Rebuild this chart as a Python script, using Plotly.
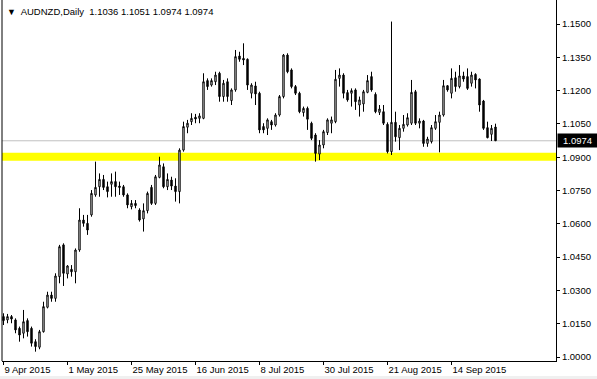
import pandas as pd
import plotly.graph_objects as go

dates = [d.strftime("%Y-%m-%d") for d in pd.bdate_range("2015-04-09", periods=124)]

open_ = [1.0182,1.0167,1.0182,1.0167,1.0129,1.0107,1.0164,1.0129,1.0069,1.0044,
         1.0114,1.0224,1.0279,1.0264,1.0362,1.0505,1.0374,1.0395,1.0384,1.0482,
         1.0617,1.0602,1.0640,1.0730,1.0767,1.0800,1.0767,1.0778,1.0790,1.0770,
         1.0767,1.0730,1.0677,1.0692,1.0662,1.0622,1.0659,1.0764,1.0692,1.0809,
         1.0857,1.0767,1.0797,1.0770,1.0745,1.0932,1.1035,1.1060,1.1080,1.1075,
         1.1075,1.1245,1.1225,1.1240,1.1278,1.1173,1.1240,1.1155,1.1203,1.1356,
         1.1345,1.1341,1.1188,1.1221,1.1188,1.1038,1.1030,1.1060,1.1045,1.1090,
         1.1173,1.1360,1.1293,1.1218,1.1188,1.1101,1.1120,1.1053,1.1000,1.0914,
         1.0955,1.1011,1.1053,1.1060,1.1255,1.1270,1.1191,1.1188,1.1203,1.1135,
         1.1140,1.1192,1.1263,1.1183,1.1102,1.1105,1.1048,1.0925,1.1057,1.0988,
         1.1030,1.1045,1.1053,1.1195,1.1053,1.1063,1.0962,1.0970,1.1030,1.1057,
         1.1090,1.1222,1.1188,1.1258,1.1218,1.1266,1.1263,1.1233,1.1273,1.1252,
         1.1153,1.1033,1.1003,1.1036]
high = [1.0197,1.0194,1.0189,1.0174,1.0137,1.0212,1.0174,1.0137,1.0080,1.0122,
        1.0249,1.0294,1.0294,1.0377,1.0505,1.0512,1.0414,1.0414,1.0489,1.0670,
        1.0640,1.0640,1.0752,1.0880,1.0827,1.0820,1.0790,1.0827,1.0835,1.0790,
        1.0775,1.0737,1.0707,1.0707,1.0670,1.0692,1.0745,1.0775,1.0820,1.0902,
        1.0872,1.0827,1.0812,1.0805,1.0940,1.1060,1.1068,1.1098,1.1095,1.1098,
        1.1278,1.1255,1.1255,1.1285,1.1285,1.1248,1.1255,1.1210,1.1383,1.1375,
        1.1413,1.1345,1.1233,1.1240,1.1195,1.1053,1.1075,1.1068,1.1098,1.1180,
        1.1365,1.1368,1.1300,1.1225,1.1195,1.1128,1.1128,1.1060,1.1008,1.0977,
        1.1023,1.1075,1.1083,1.1293,1.1300,1.1278,1.1203,1.1210,1.1210,1.1173,
        1.1203,1.1270,1.1285,1.1192,1.1135,1.1135,1.1057,1.1511,1.1105,1.1045,
        1.1090,1.1098,1.1248,1.1203,1.1075,1.1068,1.0992,1.1045,1.1090,1.1105,
        1.1248,1.1225,1.1300,1.1285,1.1315,1.1285,1.1300,1.1285,1.1278,1.1255,
        1.1158,1.1060,1.1045,1.1051]
low = [1.0144,1.0152,1.0152,1.0107,1.0069,1.0084,1.0092,1.0047,1.0024,1.0035,
       1.0110,1.0219,1.0249,1.0249,1.0332,1.0320,1.0354,1.0362,1.0332,1.0474,
       1.0587,1.0550,1.0632,1.0722,1.0722,1.0752,1.0719,1.0722,1.0722,1.0730,
       1.0722,1.0670,1.0665,1.0670,1.0610,1.0565,1.0647,1.0685,1.0685,1.0805,
       1.0760,1.0752,1.0752,1.0700,1.0692,1.0925,1.1008,1.1045,1.1053,1.1053,
       1.1071,1.1203,1.1218,1.1225,1.1150,1.1150,1.1150,1.1135,1.1195,1.1330,
       1.1315,1.1203,1.1165,1.1135,1.1008,1.1008,1.1000,1.1023,1.1038,1.1083,
       1.1165,1.1278,1.1210,1.1180,1.1098,1.1083,1.1023,1.0977,1.0880,1.0887,
       1.0940,1.1000,1.1008,1.1053,1.1218,1.1165,1.1150,1.1128,1.1113,1.1083,
       1.1105,1.1188,1.1195,1.1098,1.1090,1.1045,1.0917,1.0910,1.0970,1.0932,
       1.1015,1.1038,1.1045,1.1045,1.1030,1.0947,1.0947,1.0962,1.1023,1.0922,
       1.1083,1.1195,1.1165,1.1195,1.1210,1.1240,1.1203,1.1218,1.1210,1.1105,
       1.1023,1.0985,1.0973,1.0974]
close = [1.0164,1.0182,1.0171,1.0122,1.0099,1.0159,1.0114,1.0062,1.0047,1.0114,
         1.0227,1.0279,1.0264,1.0365,1.0497,1.0377,1.0410,1.0384,1.0482,1.0617,
         1.0602,1.0572,1.0737,1.0764,1.0800,1.0764,1.0745,1.0790,1.0767,1.0764,
         1.0730,1.0685,1.0692,1.0682,1.0617,1.0659,1.0737,1.0692,1.0812,1.0865,
         1.0767,1.0800,1.0770,1.0745,1.0932,1.1038,1.1053,1.1075,1.1072,1.1086,
         1.1240,1.1218,1.1245,1.1270,1.1173,1.1233,1.1173,1.1203,1.1353,1.1341,
         1.1338,1.1225,1.1225,1.1185,1.1023,1.1023,1.1068,1.1045,1.1090,1.1173,
         1.1360,1.1285,1.1218,1.1188,1.1105,1.1120,1.1071,1.0985,1.0917,1.0955,
         1.1015,1.1068,1.1068,1.1251,1.1270,1.1188,1.1158,1.1200,1.1150,1.1158,
         1.1195,1.1245,1.1203,1.1105,1.1117,1.1053,1.0925,1.1057,1.0992,1.1030,
         1.1048,1.1078,1.1192,1.1053,1.1063,1.0962,1.0982,1.1033,1.1060,1.1090,
         1.1222,1.1203,1.1255,1.1218,1.1266,1.1252,1.1210,1.1270,1.1248,1.1135,
         1.1030,1.0988,1.1030,1.0974]

y_ticks = [1.0000, 1.0150, 1.0300, 1.0450, 1.0600, 1.0750, 1.0900,
           1.1050, 1.1200, 1.1350, 1.1500]
x_tick_dates = ["2015-04-09", "2015-05-01", "2015-05-25", "2015-06-16",
                "2015-07-08", "2015-07-30", "2015-08-21", "2015-09-14"]
x_tick_text = ["9 Apr 2015", "1 May 2015", "25 May 2015", "16 Jun 2015",
               "8 Jul 2015", "30 Jul 2015", "21 Aug 2015", "14 Sep 2015"]
symbol = "AUDNZD,Daily"
last_price = 1.0974
band_low, band_high = 1.0884, 1.0920

FONT = "Liberation Sans"
FS = 9.5

fig = go.Figure(go.Candlestick(
    x=dates, open=open_, high=high, low=low, close=close,
    increasing=dict(line=dict(color="black", width=1), fillcolor="white"),
    decreasing=dict(line=dict(color="black", width=1), fillcolor="black"),
    whiskerwidth=0, hoverinfo="skip",
))

W, H = 597, 379
L, R, T, B = 2, 41, 0, 18
pw, ph = W - L - R, H - T - B

fig.update_layout(
    width=W, height=H, margin=dict(l=L, r=R, t=T, b=B, pad=0, autoexpand=False),
    paper_bgcolor="white", plot_bgcolor="white", showlegend=False,
    boxgap=0.5,
    font=dict(family=FONT, size=FS, color="black"),
    xaxis=dict(type="category", range=[-0.375, 138.125], rangeslider=dict(visible=False),
               showgrid=False, zeroline=False, showline=True, linecolor="black", linewidth=1,
               ticks="outside", ticklen=3, tickcolor="black", tickangle=0, automargin=False,
               tickvals=x_tick_dates, ticktext=x_tick_text,
               ticklabelposition="outside right", tickfont=dict(size=FS)),
    yaxis=dict(side="right", range=[1 - 4 / 2220, 1 + 357 / 2220], automargin=False,
               showgrid=False, zeroline=False, showline=True, linecolor="black", linewidth=1,
               ticks="outside", ticklen=3, tickcolor="black",
               tickvals=y_ticks, ticktext=[f"{v:.4f}" for v in y_ticks],
               tickfont=dict(size=FS)),
)

# support band and bid line
fig.add_shape(type="rect", xref="paper", x0=0, x1=1, yref="y", y0=band_low, y1=band_high,
              fillcolor="#FFFF00", line_width=0, layer="below")
fig.add_shape(type="line", xref="paper", x0=0, x1=1, yref="y", y0=last_price, y1=last_price,
              line=dict(color="#C0C0C0", width=1), layer="below")
# left frame line
fig.add_shape(type="line", xref="paper", x0=0, x1=0, yref="paper", y0=0, y1=1,
              line=dict(color="black", width=1))
# window border strip at the bottom
fig.add_shape(type="rect", xref="paper", yref="paper",
              x0=-L / pw, x1=(W - L) / pw, y0=-18 / ph, y1=-15 / ph,
              fillcolor="#F0F0F0", line_width=0, layer="below")

fig.add_annotation(xref="paper", yref="y", x=1, y=last_price, xanchor="left", yanchor="middle",
                   xshift=1, text=f"{last_price:.4f}", showarrow=False,
                   font=dict(color="white", size=FS), bgcolor="black", borderpad=1, width=37)

fig.add_annotation(xref="paper", yref="paper", x=3 / pw, y=1 - 11 / ph, xanchor="left",
                   yanchor="middle",
                   text=f"<span style='font-size:9px'>▼</span>  {symbol}  "
                        f"{open_[-1]:.4f} {high[-1]:.4f} {low[-1]:.4f} {close[-1]:.4f}",
                   showarrow=False, font=dict(size=FS))

fig.write_html("out.html")
